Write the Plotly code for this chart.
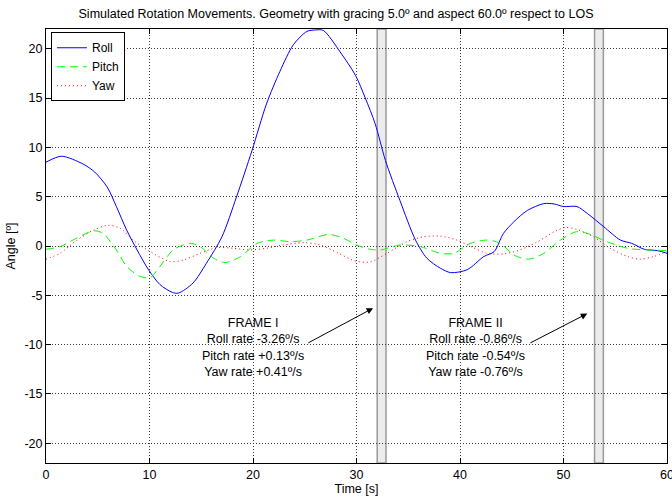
import plotly.graph_objects as go

# ---- data ----
roll_t = [0.0, 1.5, 3.6, 4.7, 5.9, 6.8, 7.8, 8.8, 9.9, 11.0, 12.2, 12.8, 14.2, 15.5, 17.0, 18.4,
          19.9, 21.3, 22.6, 23.9, 25.2, 26.0, 26.8, 28.4, 29.9, 30.85, 31.8, 32.8, 34.2, 35.7,
          36.8, 38.1, 39.1, 40.7, 42.3, 43.3, 44.2, 45.2, 46.5, 48.1, 49.1, 50.0, 51.3, 52.3,
          53.9, 55.5, 56.6, 57.8, 59.1, 60.0]
roll_v = [8.5, 9.1, 8.3, 7.5, 6.0, 4.0, 1.6, -0.4, -2.4, -3.9, -4.7, -4.77, -3.76, -1.75, 0.94, 4.96,
          9.67, 14.4, 17.7, 20.4, 21.75, 21.9, 21.85, 19.7, 17.3, 15.0, 12.4, 8.66, 4.6, 0.6,
          -1.24, -2.25, -2.7, -2.4, -1.07, -0.57, 1.28, 2.45, 3.6, 4.3, 4.26, 4.0, 4.0, 3.3,
          1.94, 0.6, 0.27, -0.33, -0.47, -0.74]

pitch_t = [0.0, 1.35, 2.6, 4.6, 5.5, 6.8, 7.8, 9.1, 10.06, 11.0, 12.3, 13.9, 14.9, 16.2, 17.3, 18.8,
           20.4, 22.0, 23.6, 25.2, 27.3, 28.6, 30.0, 31.3, 32.3, 34.2, 36.2, 38.1, 39.4, 41.0, 42.6,
           43.9, 45.2, 46.6, 48.1, 49.7, 51.2, 52.3, 54.2, 56.2, 58.1, 60.0]
pitch_v = [-0.33, -0.07, 0.6, 1.54, 1.28, -0.4, -2.08, -3.09, -3.2, -2.08, -0.4, 0.27, -0.07, -1.24, -1.68, -1.07,
           0.27, 0.6, 0.44, 0.6, 1.17, 0.85, 0.1, -0.33, -0.4, 0.1, -0.07, -0.74, -0.74, 0.27, 0.6,
           0.27, -0.9, -1.34, -0.74, 0.6, 1.44, 1.28, 0.44, -0.23, -0.4, -0.45]

yaw_t = [0.0, 1.35, 3.0, 4.6, 6.0, 7.2, 8.4, 10.06, 12.0, 13.3, 14.9, 16.5, 18.1, 19.7, 21.3, 22.9,
         24.9, 26.5, 28.2, 29.8, 31.3, 32.95, 34.9, 36.5, 38.1, 39.7, 41.3, 42.6, 44.2, 45.8, 47.5,
         49.1, 50.2, 51.3, 52.9, 54.5, 56.2, 57.4, 58.7, 60.0]
yaw_v = [-1.34, -0.74, 0.6, 1.61, 2.1, 1.78, 0.6, -0.57, -1.58, -1.41, -0.74, -0.17, -0.23, -0.4, -0.23, 0.1,
         0.34, 0.1, -0.7, -1.5, -1.62, -0.74, 0.44, 0.94, 1.0, 0.6, -0.17, -0.74, -0.8, -0.4, 0.44,
         1.44, 1.88, 1.68, 0.94, -0.23, -1.07, -1.34, -1.07, -0.57]

frames = [
    {"band": [32.0, 32.85], "label": "FRAME I",
     "rates": ["Roll rate -3.26º/s", "Pitch rate +0.13º/s", "Yaw rate +0.41º/s"],
     "text_xy": [20.0, -10.3], "tail": [25.2, -9.9], "head": [31.6, -6.3]},
    {"band": [53.0, 53.85], "label": "FRAME II",
     "rates": ["Roll rate -0.86º/s", "Pitch rate -0.54º/s", "Yaw rate -0.76º/s"],
     "text_xy": [41.5, -10.3], "tail": [46.65, -9.9], "head": [52.3, -6.85]},
]

x_ticks = [0, 10, 20, 30, 40, 50, 60]
y_ticks = [-20, -15, -10, -5, 0, 5, 10, 15, 20]

FONT = "Liberation Sans, Arial, sans-serif"

fig = go.Figure()
fig.add_trace(go.Scatter(x=roll_t, y=roll_v, name="Roll", mode="lines",
                         line=dict(color="#0000ff", width=1, shape="spline", smoothing=0.8)))
fig.add_trace(go.Scatter(x=pitch_t, y=pitch_v, name="Pitch", mode="lines",
                         line=dict(color="#00ff00", width=1, dash="8px,5px", shape="spline", smoothing=0.8)))
fig.add_trace(go.Scatter(x=yaw_t, y=yaw_v, name="Yaw", mode="lines",
                         line=dict(color="#ff0000", width=1, dash="1px,3px", shape="spline", smoothing=0.8)))

for f in frames:
    fig.add_shape(type="rect", xref="x", yref="paper", x0=f["band"][0], x1=f["band"][1], y0=0, y1=1,
                  fillcolor="#ececec", line=dict(color="#9a9a9a", width=1.5), layer="between")
    fig.add_annotation(x=f["text_xy"][0], y=f["text_xy"][1], xref="x", yref="y",
                       text="<br>".join([f["label"]] + f["rates"]), showarrow=False,
                       align="center", font=dict(family=FONT, size=12.5, color="black"))
    fig.add_annotation(x=f["head"][0], y=f["head"][1], ax=f["tail"][0], ay=f["tail"][1],
                       xref="x", yref="y", axref="x", ayref="y", text="", showarrow=True,
                       arrowhead=2, arrowsize=1.3, arrowwidth=1, arrowcolor="black")

axis_common = dict(showline=True, linecolor="black", linewidth=1, mirror="ticks",
                   ticks="inside", ticklen=5, tickcolor="black", automargin=False,
                   ticklabeloverflow="allow",
                   showgrid=True, gridcolor="#3a3a3a", griddash="1px,2px", gridwidth=1,
                   zeroline=False, tickfont=dict(family=FONT, size=12.5, color="black"))

fig.update_layout(
    width=672, height=497,
    margin=dict(l=46, r=5, t=29, b=34),
    paper_bgcolor="white", plot_bgcolor="white",
    title=dict(text="Simulated Rotation Movements. Geometry with gracing 5.0º and aspect 60.0º respect to LOS",
               x=0.5, xanchor="center", y=1 - 14 / 497, yanchor="middle",
               font=dict(family=FONT, size=12.5, color="black")),
    xaxis=dict(range=[0, 60], tickvals=x_ticks, ticktext=[str(v) for v in x_ticks],
               title=dict(text="Time [s]", standoff=2, font=dict(family=FONT, size=12.5, color="black")),
               **axis_common),
    yaxis=dict(range=[-22, 22], tickvals=y_ticks, ticktext=[str(v) for v in y_ticks],
               title=dict(text="Angle [º]", standoff=6, font=dict(family=FONT, size=12.5, color="black")),
               **axis_common),
    legend=dict(x=0.008, y=0.9925, xanchor="left", yanchor="top",
                bordercolor="black", borderwidth=1, bgcolor="white",
                font=dict(family=FONT, size=12, color="black"),
                tracegroupgap=0, itemwidth=30),
    showlegend=True,
)

fig.write_html("out.html")
